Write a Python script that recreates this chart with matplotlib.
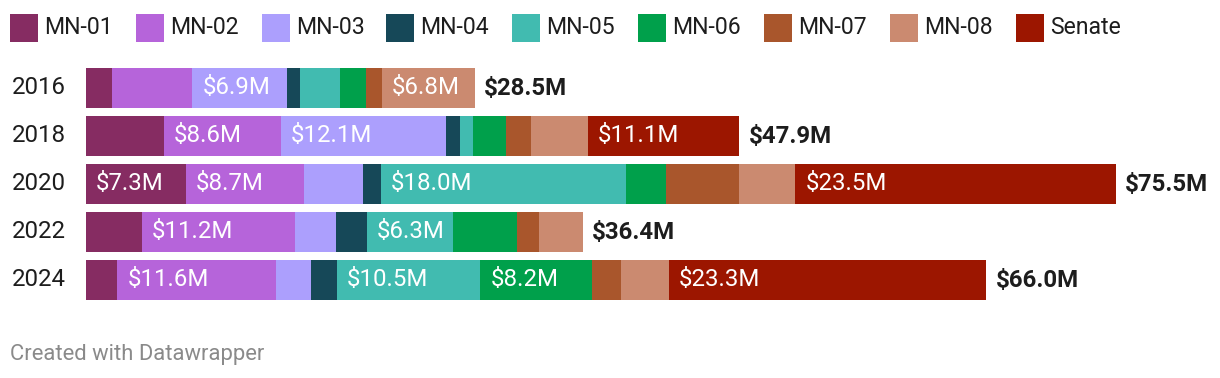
import matplotlib.pyplot as plt
from matplotlib.patches import Rectangle

plt.rcParams["font.family"] = ["Roboto", "DejaVu Sans"]

years = ["2016", "2018", "2020", "2022", "2024"]
series = ["MN-01", "MN-02", "MN-03", "MN-04", "MN-05", "MN-06", "MN-07", "MN-08", "Senate"]

mn01 = [1.9, 5.7, 7.3, 4.1, 2.3]
mn02 = [5.9, 8.6, 8.7, 11.2, 11.6]
mn03 = [6.9, 12.1, 4.3, 3.0, 2.6]
mn04 = [1.0, 1.0, 1.3, 2.3, 1.9]
mn05 = [2.9, 1.0, 18.0, 6.3, 10.5]
mn06 = [1.9, 2.4, 2.9, 4.7, 8.2]
mn07 = [1.2, 1.8, 5.4, 1.6, 2.1]
mn08 = [6.8, 4.2, 4.1, 3.2, 3.5]
senate = [0, 11.1, 23.5, 0, 23.3]

colors = ["#862c62", "#b664da", "#ac9ffd", "#164858", "#41bbb0",
          "#00a04b", "#a9562c", "#cb8a70", "#9c1600"]

values = [mn01, mn02, mn03, mn04, mn05, mn06, mn07, mn08, senate]

W, H = 1220, 378
PT = 0.72  # px -> pt at dpi 100
fig = plt.figure(figsize=(W / 100, H / 100), dpi=100)

# axes placed in pixel terms: x from 86px, 1030px wide for 75.5M
ax = fig.add_axes([86 / W, (H - 304) / H, 1030 / W, 240 / H])
ax.set_xlim(0, 75.5)
ax.set_ylim(4.5, -0.5)
ax.axis("off")

ypos = list(range(len(years)))
left = [0.0] * len(years)
for name, vals, col in zip(series, values, colors):
    ax.barh(ypos, vals, left=left, height=40 / 48, color=col, linewidth=0)
    for i, v in enumerate(vals):
        if v >= 6.0:
            ax.annotate(f"${v:.1f}M", (left[i], ypos[i]), xytext=(7.2, 0),
                        textcoords="offset points", ha="left", va="center",
                        color="white", fontsize=24 * PT)
    left = [l + v for l, v in zip(left, vals)]

for i, t in enumerate(left):
    ax.annotate(f"${t:.1f}M", (t, ypos[i]), xytext=(6.6, 0),
                textcoords="offset points", ha="left", va="center",
                color="#1d1d1d", fontsize=24 * PT, fontweight="bold")

# year labels
for i, yr in enumerate(years):
    fig.text(12 / W, 1 - (88 + 48 * i) / H, yr, ha="left", va="center",
             fontsize=24 * PT, color="#1d1d1d")

# legend row
sw_x = [10, 136, 262, 386, 512, 638, 764, 890, 1016]
for x, name, col in zip(sw_x, series, colors):
    fig.patches.append(Rectangle((x / W, 1 - 42 / H), 28 / W, 28 / H,
                                 transform=fig.transFigure, color=col, linewidth=0))
    fig.text((x + 34) / W, 1 - 34 / H, name, ha="left", va="baseline",
             fontsize=23 * PT, color="#1d1d1d")

fig.text(10 / W, 1 - 360 / H, "Created with Datawrapper", ha="left", va="baseline",
         fontsize=22 * PT, color="#8a8a8a")

fig.savefig("out.png", dpi=100)
